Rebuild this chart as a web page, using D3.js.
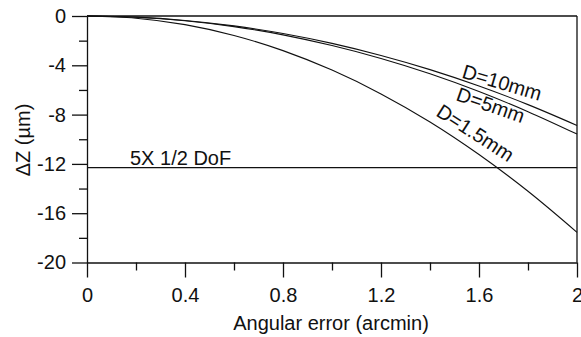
<!DOCTYPE html>
<html>
<head>
<meta charset="utf-8">
<script src="https://cdn.jsdelivr.net/npm/d3@7"></script>
<style>
  html, body { margin: 0; padding: 0; background: #fff; }
  svg { display: block; }
  text { font-family: "Liberation Sans", Arial, sans-serif; fill: #111; }
</style>
</head>
<body>
<svg id="chart" width="581" height="337"></svg>
<script>
// ---- data ----
const angularError = [0, 0.2, 0.4, 0.6, 0.8, 1.0, 1.2, 1.4, 1.6, 1.8, 2.0];
const dzD10  = [0, -0.09, -0.36, -0.80, -1.42, -2.22, -3.20, -4.35, -5.68, -7.19, -8.88];
const dzD5   = [0, -0.10, -0.38, -0.86, -1.53, -2.40, -3.45, -4.69, -6.13, -7.76, -9.58];
const dzD15  = [0, -0.18, -0.70, -1.58, -2.81, -4.39, -6.32, -8.60, -11.24, -14.22, -17.55];
const seriesNames = ["D=10mm", "D=5mm", "D=1.5mm"];
const dofLevel = -12.3;
const dofLabel = "5X 1/2 DoF";
const xMajorTicks = [0, 0.4, 0.8, 1.2, 1.6, 2];
const xMinorTicks = [0.2, 0.6, 1.0, 1.4, 1.8];
const yMajorTicks = [0, -4, -8, -12, -16, -20];
const yMinorTicks = [-2, -6, -10, -14, -18];
const xTitle = "Angular error (arcmin)";
const yTitle = "ΔZ (µm)";

// ---- layout ----
const svg = d3.select("#chart");
const x = d3.scaleLinear().domain([0, 2]).range([87, 577]);
const y = d3.scaleLinear().domain([-20, 0]).range([262.5, 16]);
const ink = "#111";

// x axis major / minor
const gx = svg.append("g").attr("transform", `translate(0,${y(-20)})`);
gx.call(d3.axisBottom(x).tickValues(xMajorTicks).tickSize(15).tickSizeOuter(0)
  .tickPadding(10).tickFormat(d => d3.format("~g")(d)));
const gxm = svg.append("g").attr("transform", `translate(0,${y(-20)})`);
gxm.call(d3.axisBottom(x).tickValues(xMinorTicks).tickSize(8).tickSizeOuter(0).tickFormat(""));
gxm.select(".domain").remove();

// y axis major / minor
const gy = svg.append("g").attr("transform", `translate(${x(0)},0)`);
gy.call(d3.axisLeft(y).tickValues(yMajorTicks).tickSize(15).tickSizeOuter(0)
  .tickPadding(6).tickFormat(d => String(d)));
const gym = svg.append("g").attr("transform", `translate(${x(0)},0)`);
gym.call(d3.axisLeft(y).tickValues(yMinorTicks).tickSize(8).tickSizeOuter(0).tickFormat(""));
gym.select(".domain").remove();

svg.selectAll(".domain, .tick line").attr("stroke", ink).attr("stroke-width", 1.3);
svg.selectAll(".tick text").attr("font-size", 20).attr("fill", ink)
  .style("font-family", "'Liberation Sans', Arial, sans-serif");

// frame top and right
svg.append("line").attr("x1", x(0)).attr("x2", x(2)).attr("y1", y(0)).attr("y2", y(0))
  .attr("stroke", ink).attr("stroke-width", 1.3);
svg.append("line").attr("x1", x(2)).attr("x2", x(2)).attr("y1", y(0)).attr("y2", y(-20))
  .attr("stroke", ink).attr("stroke-width", 1.3);

// DoF line
svg.append("line").attr("x1", x(0)).attr("x2", x(2)).attr("y1", y(dofLevel)).attr("y2", y(dofLevel))
  .attr("stroke", ink).attr("stroke-width", 1.2);
svg.append("text").attr("x", 130).attr("y", y(dofLevel) - 3)
  .attr("font-size", 20).text(dofLabel);

// curves
const line = d3.line().x((d, i) => x(angularError[i])).y(d => y(d)).curve(d3.curveCatmullRom);
[dzD10, dzD5, dzD15].forEach(s => {
  svg.append("path").attr("d", line(s)).attr("fill", "none")
    .attr("stroke", ink).attr("stroke-width", 1.1);
});

// curve labels
const labelPos = [
  {x: 461, y: 77.5, a: 16.6},
  {x: 455, y: 100, a: 19.3},
  {x: 435, y: 115, a: 33}
];
seriesNames.forEach((n, i) => {
  const p = labelPos[i];
  svg.append("text").attr("font-size", 20)
    .attr("transform", `translate(${p.x},${p.y}) rotate(${p.a})`).text(n);
});

// axis titles
svg.append("text").attr("x", (x(0) + x(2)) / 2 - 1).attr("y", 330)
  .attr("text-anchor", "middle").attr("font-size", 20).text(xTitle);
svg.append("text").attr("transform", `translate(30,140) rotate(-90)`)
  .attr("text-anchor", "middle").attr("font-size", 20).text(yTitle);
</script>
</body>
</html>
